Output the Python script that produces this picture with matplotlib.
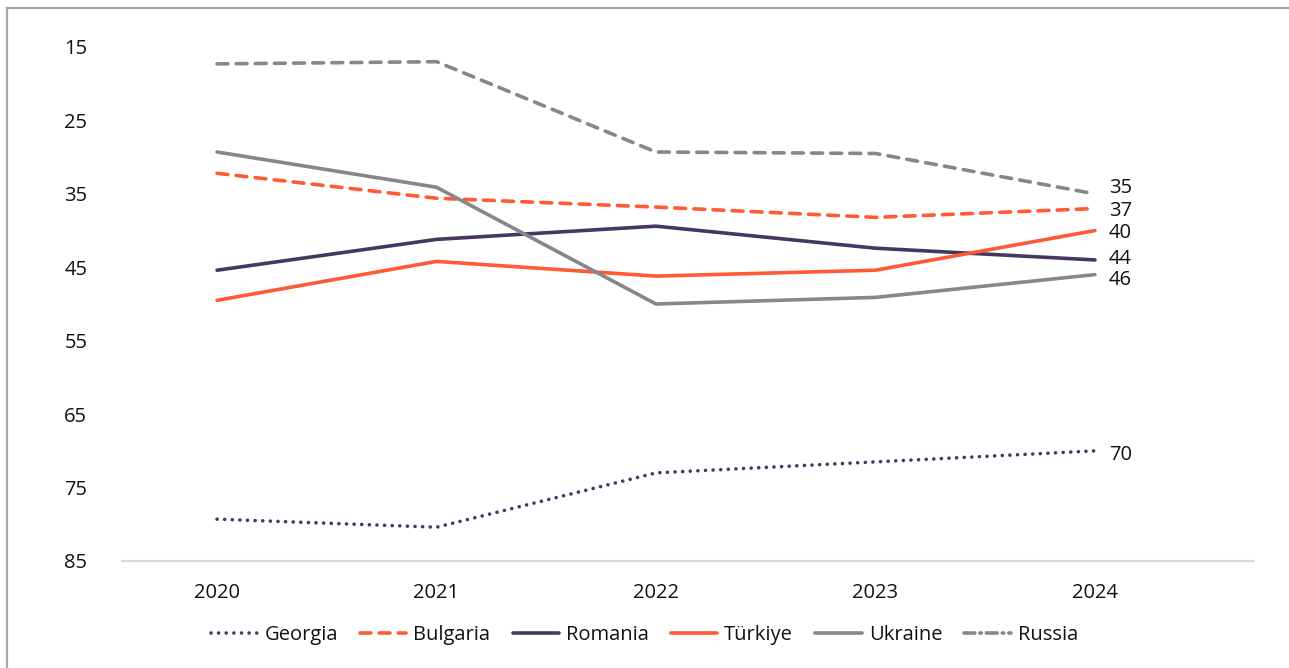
import matplotlib.pyplot as plt
from matplotlib.patches import Rectangle

plt.rcParams['font.family'] = ['Open Sans', 'DejaVu Sans']

years = [2020, 2021, 2022, 2023, 2024]

georgia = [79.3, 80.4, 73.0, 71.5, 70]
bulgaria = [32.2, 35.6, 36.8, 38.2, 37]
romania = [45.4, 41.2, 39.4, 42.4, 44]
turkiye = [49.5, 44.2, 46.2, 45.4, 40]
ukraine = [29.3, 34.1, 50.0, 49.1, 46]
russia = [17.3, 17.0, 29.3, 29.5, 35]

y_ticks = [15, 25, 35, 45, 55, 65, 75, 85]

GREY = "#87878b"
ORANGE = "#ff5a36"
PURPLE = "#47375f"

W, H = 1289, 668
fig = plt.figure(figsize=(W / 100, H / 100), dpi=100)
ax = fig.add_axes([122 / W, 1 - 561 / H, (1253 - 122) / W, (561 - 47) / H])

lw = 2.6
fs = 14.5
series = [
    ("Georgia", georgia, PURPLE, dict(dashes=(0.01, 2.1), dash_capstyle="round")),
    ("Bulgaria", bulgaria, ORANGE, dict(dashes=(3.0, 2.3), dash_capstyle="round")),
    ("Romania", romania, PURPLE, dict(linestyle="-")),
    ("Türkiye", turkiye, ORANGE, dict(linestyle="-")),
    ("Ukraine", ukraine, GREY, dict(linestyle="-")),
    ("Russia", russia, GREY, dict(dashes=(3.0, 2.3), dash_capstyle="round")),
]

# small vertical nudges (points) keep the end labels from colliding
nudge = {"Russia": 4, "Bulgaria": -2, "Türkiye": -2, "Romania": 1, "Ukraine": -4, "Georgia": -3}

for name, vals, color, style in series:
    ax.plot(years, vals, color=color, lw=lw, label=name,
            solid_capstyle="round", solid_joinstyle="round", **style)
    ax.annotate(f"{vals[-1]:g}", (years[-1], vals[-1]),
                xytext=(10, nudge[name]), textcoords="offset points",
                ha="left", va="center", fontsize=fs, color="#111111")

ax.set_xlim(2019.567, 2024.72)
ax.set_ylim(85, 15)
ax.set_yticks(y_ticks)
ax.set_xticks(years)

for side in ("left", "right", "top"):
    ax.spines[side].set_visible(False)
ax.spines["bottom"].set_color("#d9d9d9")
ax.spines["bottom"].set_linewidth(1.6)
ax.tick_params(axis="both", length=0, labelsize=fs, colors="#111111")
ax.tick_params(axis="y", pad=25)
ax.tick_params(axis="x", pad=16)

leg = fig.legend(loc="center", bbox_to_anchor=(0.5, 1 - 635 / H), ncol=6,
                 frameon=False, fontsize=fs, handlelength=2.3,
                 columnspacing=1.1, handletextpad=0.35)
for t in leg.get_texts():
    t.set_color("#111111")
# Russia's legend key is drawn dash-dot
leg.get_lines()[-1].set_dashes((3.0, 1.4, 0.4, 1.4))

# outer frame, clipped on the right and bottom
fig.patches.append(Rectangle((7 / W, -0.1), 1.2, 1 - 8 / H + 0.1,
                             transform=fig.transFigure, fill=False,
                             edgecolor="#a6a6a6", lw=1.6))

fig.savefig("out.png", dpi=100)
